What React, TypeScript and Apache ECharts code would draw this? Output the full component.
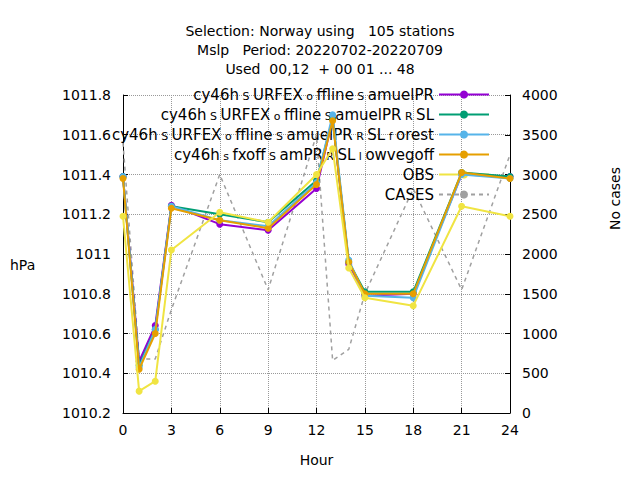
import React, { useEffect, useRef } from 'react';
import * as echarts from 'echarts';

const hours = [0, 1, 2, 3, 6, 9, 12, 13, 14, 15, 18, 21, 24];
const purple = [1011.39, 1010.46, 1010.64, 1011.245, 1011.15, 1011.12, 1011.33, 1011.68, 1010.95, 1010.79, 1010.8, 1011.4, 1011.39];
const green = [1011.39, 1010.44, 1010.62, 1011.24, 1011.2, 1011.16, 1011.37, 1011.68, 1010.96, 1010.81, 1010.81, 1011.41, 1011.39];
const blue = [1011.39, 1010.43, 1010.62, 1011.24, 1011.17, 1011.14, 1011.36, 1011.7, 1010.97, 1010.79, 1010.78, 1011.4, 1011.38];
const orange = [1011.38, 1010.42, 1010.6, 1011.23, 1011.17, 1011.13, 1011.35, 1011.67, 1010.96, 1010.8, 1010.8, 1011.41, 1011.38];
const obs = [1011.19, 1010.31, 1010.36, 1011.02, 1011.21, 1011.16, 1011.4, 1011.53, 1010.93, 1010.78, 1010.74, 1011.24, 1011.19];
const cases = [3400, 680, 680, 1300, 3000, 1550, 3500, 660, 800, 1500, 2820, 1550, 3250];

const names = [
  'cy46h{s| S }URFEX{s| o }ffline{s| S }amuelPR',
  'cy46h{s| S }URFEX{s| o }ffline{s| S }amuelPR{s| R }SL',
  'cy46h{s| S }URFEX{s| o }ffline{s| S }amuelPR{s| R }SL{s| f }orest',
  'cy46h{s| s }fxoff{s| S }amPR{s| R }SL{s| l }owvegoff',
  'OBS',
  'CASES',
];
const colors = ['#9400d3', '#009e73', '#56b4e9', '#e69f00', '#f0e442', '#a0a0a0'];

const App: React.FC = () => {
  const ref = useRef<HTMLDivElement>(null);

  useEffect(() => {
    if (!ref.current) return;
    const chart = echarts.init(ref.current, null, { renderer: 'svg' });
    const font = 'DejaVu Sans';
    const mk = (d: number[], i: number) => ({
      name: names[i],
      type: 'line',
      data: hours.map((h, k) => [h, d[k]]),
      symbol: 'circle',
      symbolSize: 7,
      lineStyle: { width: 2, color: colors[i] },
      itemStyle: { color: colors[i] },
      z: 3 + i,
    });
    chart.setOption({
      animation: false,
      textStyle: { fontFamily: font },
      title: {
        text: 'Selection: Norway using   105 stations\nMslp   Period: 20220702-20220709\nUsed  00,12  + 00 01 ... 48',
        left: 307,
        textAlign: 'center',
        top: 8,
        textStyle: { fontSize: 14, fontWeight: 'normal', lineHeight: 19, fontFamily: font, color: '#000' },
      },
      grid: { left: 115, right: 122, top: 87, bottom: 54 },
      legend: {
        orient: 'vertical',
        right: 142,
        top: 79,
        align: 'right',
        itemWidth: 50,
        itemHeight: 10,
        itemGap: 5,
        padding: 0,
        data: names,
        textStyle: {
          fontSize: 15,
          lineHeight: 14,
          color: '#000',
          fontFamily: font,
          rich: { s: { fontSize: 11, verticalAlign: 'bottom', padding: [8, 0, 0, 0], fontFamily: font } },
        },
      },
      xAxis: {
        type: 'value',
        min: 0,
        max: 24,
        interval: 3,
        name: 'Hour',
        nameLocation: 'middle',
        nameGap: 40,
        nameTextStyle: { fontSize: 14, color: '#000' },
        axisLine: { lineStyle: { color: '#000' } },
        axisTick: { inside: true, lineStyle: { color: '#000' } },
        axisLabel: { fontSize: 14, color: '#000', margin: 10 },
        splitLine: { lineStyle: { type: 'dotted', color: '#999' } },
      },
      yAxis: [
        {
          type: 'value',
          min: 1010.2,
          max: 1011.8,
          interval: 0.2,
          axisLine: { show: true, lineStyle: { color: '#000' } },
          axisTick: { show: true, inside: true, lineStyle: { color: '#000' } },
          axisLabel: {
            fontSize: 14,
            color: '#000',
            margin: 12,
            formatter: (v: number) => String(Number(v.toFixed(1))),
          },
          splitLine: { lineStyle: { type: 'dotted', color: '#999' } },
        },
        {
          type: 'value',
          min: 0,
          max: 4000,
          interval: 500,
          axisLine: { show: true, lineStyle: { color: '#000' } },
          axisTick: { show: true, inside: true, lineStyle: { color: '#000' } },
          axisLabel: { fontSize: 14, color: '#000', margin: 12, formatter: (v: number) => String(v) },
          splitLine: { show: false },
        },
      ],
      graphic: [
        { type: 'text', left: 2, top: 250, style: { text: 'hPa', fontSize: 14, fontFamily: font, fill: '#000' } },
        {
          type: 'text',
          x: 600,
          y: 222,
          rotation: Math.PI / 2,
          style: { text: 'No cases', fontSize: 14, fontFamily: font, fill: '#000' },
        },
      ],
      series: [
        mk(purple, 0),
        mk(green, 1),
        mk(blue, 2),
        mk(orange, 3),
        mk(obs, 4),
        {
          name: names[5],
          type: 'line',
          yAxisIndex: 1,
          data: hours.map((h, k) => [h, cases[k]]),
          showSymbol: false,
          symbol: 'none',
          lineStyle: { width: 1.5, type: [4, 4], color: colors[5] },
          itemStyle: { color: colors[5] },
          z: 2,
        },
      ],
    });
    return () => { chart.dispose(); };
  }, []);

  return <div ref={ref} style={{ width: 624, height: 464 }} />;
};

export default App;
